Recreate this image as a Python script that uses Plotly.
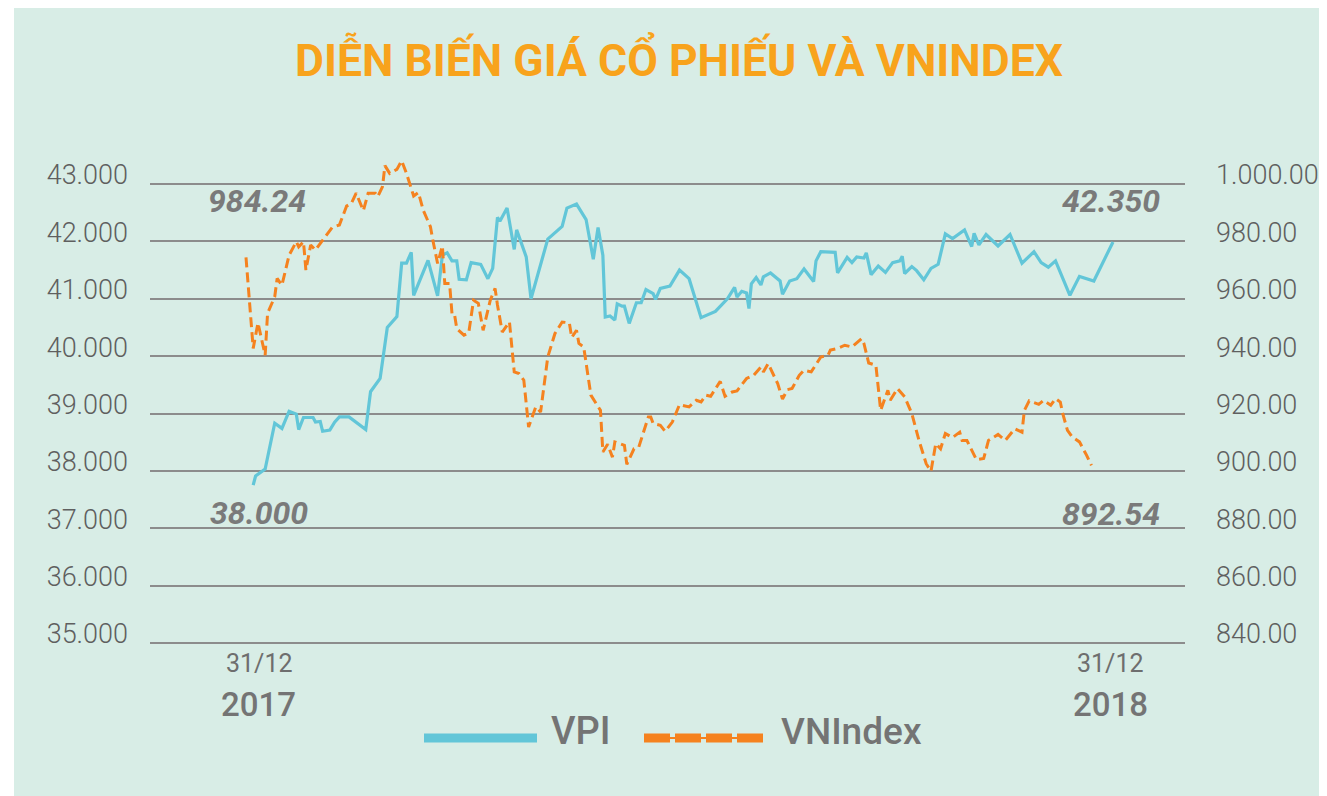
import numpy as np
import pandas as pd
import plotly.graph_objects as go

# ---------------- data ----------------
# VPI share price (VND) by trading day of 2018 (day of year)
vpi_day = [5, 6, 10, 14, 17, 20, 23, 24, 26, 30,
           31, 33, 34, 37, 39, 41, 45, 52, 54, 58,
           61, 65, 67, 69, 71, 72, 78, 82, 84, 86,
           88, 90, 91, 94, 96, 100, 103, 105, 107, 108,
           111, 114, 115, 119, 121, 128, 134, 136, 140, 144,
           147, 149, 151, 152, 154, 156, 157, 159, 160, 162,
           165, 167, 169, 172, 173, 175, 179, 183, 187, 192,
           198, 203, 206, 207, 209, 211, 212, 213, 215, 217,
           218, 221, 225, 226, 229, 232, 235, 239, 240, 242,
           248, 249, 253, 255, 257, 260, 261, 263, 266, 269,
           272, 275, 276, 277, 280, 282, 285, 288, 291, 294,
           297, 302, 305, 306, 308, 311, 316, 321, 326, 331,
           334, 337, 340, 346, 350, 356, 364]
vpi_price = [37750, 37910, 38030, 38830, 38740, 39040, 38990, 38720, 38930, 38930,
             38850, 38860, 38690, 38710, 38850, 38940, 38940, 38720, 39380, 39610,
             40500, 40690, 41620, 41620, 41810, 41060, 41670, 41050, 41760, 41800,
             41660, 41660, 41340, 41330, 41630, 41600, 41350, 41530, 42420, 42350,
             42580, 41860, 42200, 41730, 41000, 42040, 42260, 42580, 42650, 42380,
             41690, 42240, 41760, 40680, 40700, 40630, 40910, 40870, 40870, 40570,
             40930, 40930, 41160, 41090, 40990, 41180, 41220, 41500, 41350, 40670,
             40780, 41000, 41200, 41030, 41130, 41100, 40830, 41260, 41370, 41240,
             41380, 41450, 41310, 41080, 41310, 41350, 41520, 41300, 41660, 41820,
             41810, 41450, 41720, 41630, 41730, 41710, 41800, 41420, 41570, 41460,
             41630, 41660, 41740, 41440, 41560, 41490, 41330, 41530, 41600, 42130,
             42050, 42200, 41910, 42140, 41940, 42120, 41920, 42120, 41620, 41820,
             41630, 41550, 41660, 41060, 41390, 41310, 41990]

# VNIndex by trading day of 2018 (day of year)
vni_day = [2, 5, 7, 10, 11, 14, 15, 17, 20, 23,
           24, 26, 27, 29, 31, 34, 38, 41, 44, 46,
           48, 51, 53, 56, 57, 59, 60, 62, 65, 67,
           69, 72, 74, 76, 79, 80, 82, 84, 85, 87,
           88, 89, 90, 93, 95, 97, 99, 101, 104, 106,
           107, 109, 112, 114, 116, 118, 120, 123, 125, 128,
           131, 134, 137, 138, 140, 141, 143, 146, 150, 151,
           153, 155, 156, 160, 161, 164, 166, 170, 171, 172,
           175, 177, 180, 183, 187, 190, 192, 194, 196, 200,
           202, 205, 207, 211, 214, 217, 218, 220, 224, 226,
           228, 230, 233, 235, 238, 242, 245, 246, 249, 252,
           255, 259, 260, 262, 265, 267, 270, 271, 274, 277,
           280, 283, 286, 288, 290, 292, 294, 297, 300, 301,
           303, 307, 310, 312, 316, 319, 323, 326, 327, 329,
           333, 335, 338, 340, 342, 343, 345, 347, 350, 353,
           355]
vni_value = [974.4, 942.7, 951.6, 940.3, 954.9, 960.7, 967.1, 964.7, 975.2, 979.9,
             978.1, 979.9, 970.0, 978.7, 977.0, 980.5, 984.9, 985.7, 992.3, 993.3,
             996.8, 990.7, 996.8, 996.8, 995.6, 999.1, 1006.4, 1003.7, 1005.1, 1008.1,
             1003.7, 995.8, 997.0, 990.9, 985.1, 980.5, 972.3, 978.4, 965.3, 965.3,
             954.9, 954.9, 949.6, 947.3, 948.1, 959.5, 958.4, 949.0, 959.5, 963.6,
             957.8, 948.4, 951.9, 934.5, 933.9, 931.6, 915.3, 922.3, 920.5, 939.7,
             947.9, 951.9, 951.6, 946.5, 949.0, 944.4, 943.2, 926.4, 921.1, 906.6,
             909.3, 904.8, 910.1, 908.9, 902.3, 907.7, 908.3, 918.8, 918.8, 916.5,
             915.9, 913.8, 917.0, 923.1, 922.3, 924.6, 924.0, 926.4, 926.0, 931.2,
             926.0, 927.5, 927.9, 932.2, 933.3, 936.2, 934.5, 937.4, 930.4, 925.0,
             928.3, 928.7, 933.3, 935.1, 934.5, 939.7, 940.3, 942.1, 942.7, 943.8,
             943.2, 946.1, 944.4, 937.6, 936.8, 921.1, 928.1, 924.6, 928.7, 925.8,
             920.0, 910.6, 902.5, 899.9, 909.5, 907.7, 913.0, 911.6, 913.5, 910.6,
             910.6, 903.9, 904.3, 910.6, 912.7, 910.6, 914.7, 913.5, 921.1, 924.4,
             923.2, 924.6, 922.9, 925.2, 924.0, 920.0, 914.1, 911.8, 910.1, 905.4,
             901.9]

# axis ticks
vpi_tickvals = [35000, 36000, 37000, 38000, 39000, 40000, 41000, 42000, 43000]
vpi_ticktext = ["35.000", "36.000", "37.000", "38.000", "39.000",
                "40.000", "41.000", "42.000", "43.000"]
vni_tickvals = [840, 860, 880, 900, 920, 940, 960, 980, 1000]
vni_ticktext = ["840.00", "860.00", "880.00", "900.00", "920.00",
                "940.00", "960.00", "980.00", "1.000.00"]

# callout labels printed on the chart
label_vni_start = "984.24"
label_vpi_start = "38.000"
label_vpi_end = "42.350"
label_vni_end = "892.54"
title_text = "DIỄN BIẾN GIÁ CỔ PHIẾU VÀ VNINDEX"

# ---------------- layout geometry ----------------
# the page body has an 8px margin, so the figure is drawn 8px smaller
OFF = 8
W, H = 1327 - OFF, 796 - OFF
PL, PR, PT, PB = 150, 1185, 150, 654          # plot area in page pixels
L, R, T, B = PL - OFF, W - (PR - OFF), PT - OFF, H - (PB - OFF)
BG = "#d8ede6"
TEAL = "#62c6d8"
ORANGE = "#f5821f"
GRID = "#8c8c8c"
GRAY = "#7a7a7a"
LABEL = "#6e6e6e"

base = pd.Timestamp("2018-01-01")


def to_date(days):
    return base + pd.to_timedelta(np.asarray(days) - 1, unit="D")


def px_to_date(px):
    day = 2 + (px - 246) * 362 / 867
    return (base + pd.Timedelta(days=day - 1)).isoformat()


# y mapping: 43.000 gridline at y=184px, 35.000 at y=643px (page pixels)
ppu = (643 - 184) / 8000.0
y_top = 43000 + (184 - PT) / ppu
y_bot = 35000 - (PB - 643) / ppu
y2_top = 840 + (y_top - 35000) / 50.0
y2_bot = 840 + (y_bot - 35000) / 50.0


def ax(px):
    return (px - PL) / (PR - PL)


def ay(py):
    return (PB - py) / (PB - PT)


fig = go.Figure()
fig.add_trace(go.Scatter(
    x=to_date(vpi_day), y=vpi_price, name="VPI", mode="lines",
    line=dict(color=TEAL, width=3.2), yaxis="y"))
fig.add_trace(go.Scatter(
    x=to_date(vni_day), y=vni_value, name="VNIndex", mode="lines",
    line=dict(color=ORANGE, width=3, dash="10px,5px"), yaxis="y2"))

tickfont = dict(family="Roboto", size=27, color="#5f5f5f", weight=300)
fig.update_layout(
    width=W, height=H,
    margin=dict(l=L, r=R, t=T, b=B, autoexpand=False),
    paper_bgcolor="white",
    plot_bgcolor="rgba(0,0,0,0)",
    showlegend=False,
    xaxis=dict(type="date", range=[px_to_date(PL), px_to_date(PR)],
               showgrid=False, zeroline=False, showline=False,
               showticklabels=False, ticks=""),
    yaxis=dict(range=[y_bot, y_top], tickvals=vpi_tickvals, ticktext=vpi_ticktext,
               showgrid=True, gridcolor=GRID, gridwidth=1.6, zeroline=False,
               showline=False, ticks="", ticklabelstandoff=21, ticklabelshift=-9,
               tickfont=tickfont, automargin=False),
    yaxis2=dict(range=[y2_bot, y2_top], tickvals=vni_tickvals, ticktext=vni_ticktext,
                overlaying="y", side="right", showgrid=False, zeroline=False,
                showline=False, ticks="", ticklabelstandoff=30, ticklabelshift=-9,
                tickfont=tickfont, automargin=False),
)

shapes = [
    dict(type="rect", xref="paper", yref="paper", x0=ax(14), x1=ax(1340),
         y0=ay(810), y1=ay(6), fillcolor=BG, line=dict(width=0), layer="below"),
    # legend keys
    dict(type="line", xref="paper", yref="paper", x0=ax(424), x1=ax(537),
         y0=ay(738), y1=ay(738), line=dict(color=TEAL, width=9)),
    dict(type="line", xref="paper", yref="paper", x0=ax(648), x1=ax(761),
         y0=ay(738), y1=ay(738), line=dict(color=ORANGE, width=2)),
    dict(type="line", xref="paper", yref="paper", x0=ax(644), x1=ax(765),
         y0=ay(738), y1=ay(738), line=dict(color=ORANGE, width=9, dash="26px,5px")),
]
fig.update_layout(shapes=shapes)

ann = []
ann.append(dict(text=title_text, x=ax(679), y=ay(60), xref="paper", yref="paper",
                xanchor="center", yanchor="middle", showarrow=False,
                font=dict(family="Roboto", size=44.5, color="#f8a31c", weight="bold")))
for txt, cx, cy in [(label_vni_start, 256.5, 200.5), (label_vpi_start, 258.5, 513),
                    (label_vpi_end, 1110.5, 201), (label_vni_end, 1111, 514)]:
    ann.append(dict(text=txt, x=ax(cx), y=ay(cy), xref="paper", yref="paper",
                    xanchor="center", yanchor="middle", showarrow=False,
                    font=dict(family="Roboto", size=32, color=GRAY,
                              weight="bold", style="italic")))
for txt, cx in [("31/12", 259.5), ("31/12", 1110)]:
    ann.append(dict(text=txt, x=ax(cx), y=ay(663), xref="paper", yref="paper",
                    xanchor="center", yanchor="middle", showarrow=False,
                    font=dict(family="Roboto", size=25, color=LABEL)))
for txt, cx in [("2017", 258.5), ("2018", 1110.5)]:
    ann.append(dict(text=txt, x=ax(cx), y=ay(704), xref="paper", yref="paper",
                    xanchor="center", yanchor="middle", showarrow=False,
                    font=dict(family="Roboto", size=33, color="#747474", weight=500)))
ann.append(dict(text="VPI", x=ax(549), y=ay(731), xref="paper", yref="paper",
                xanchor="left", yanchor="middle", showarrow=False,
                font=dict(family="Roboto", size=38, color="#747474", weight=500)))
ann.append(dict(text="VNIndex", x=ax(779), y=ay(731), xref="paper", yref="paper",
                xanchor="left", yanchor="middle", showarrow=False,
                font=dict(family="Roboto", size=37, color="#747474", weight=500)))
fig.update_layout(annotations=ann)

fig.write_html("out.html")
